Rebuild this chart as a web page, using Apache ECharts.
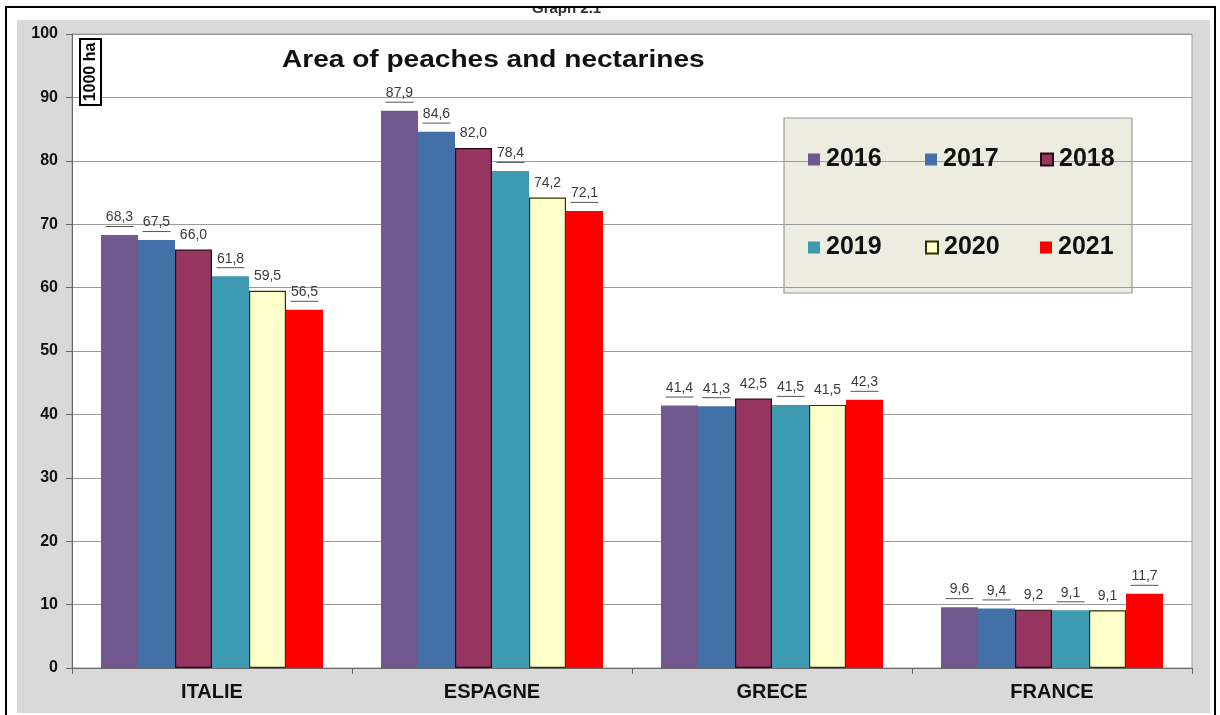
<!DOCTYPE html>
<html>
<head>
<meta charset="utf-8">
<script src="https://cdn.jsdelivr.net/npm/echarts@6/dist/echarts.min.js"></script>
<style>
html,body{margin:0;padding:0;background:#fff;}
#c{width:1220px;height:715px;}
</style>
</head>
<body>
<div id="c"></div>
<script>
const categories = ['ITALIE', 'ESPAGNE', 'GRECE', 'FRANCE'];
const years = ['2016', '2017', '2018', '2019', '2020', '2021'];
const y2016 = [68.3, 87.9, 41.4, 9.6];
const y2017 = [67.5, 84.6, 41.3, 9.4];
const y2018 = [66.0, 82.0, 42.5, 9.2];
const y2019 = [61.8, 78.4, 41.5, 9.1];
const y2020 = [59.5, 74.2, 41.5, 9.1];
const y2021 = [56.5, 72.1, 42.3, 11.7];
const yTicks = [0, 10, 20, 30, 40, 50, 60, 70, 80, 90, 100];

const seriesValues = [y2016, y2017, y2018, y2019, y2020, y2021];
const colors = ['#71588f', '#4470a8', '#953560', '#3d9ab1', '#ffffcc', '#ff0000'];
const borders = [null, null, '#2a0a18', null, '#333300', null];
const underlined = [true, true, false, true, false, true];
const FONT = '"Liberation Sans", Arial, sans-serif';

const chart = echarts.init(document.getElementById('c'), null, {renderer: 'canvas'});

const series = years.map((y, i) => ({
  name: y,
  type: 'bar',
  data: seriesValues[i],
  barGap: '0%',
  barCategoryGap: '20.7%',
  itemStyle: {
    color: colors[i],
    borderColor: borders[i] || colors[i],
    borderWidth: borders[i] ? 1.2 : 0
  },
  label: {
    show: true,
    position: 'top',
    distance: 7,
    formatter: p => {
      const s = p.value.toFixed(1).replace('.', ',');
      return underlined[i] ? '{v|' + s + '}\n{u| }' : '{v|' + s + '}';
    },
    rich: {
      v: {fontFamily: FONT, fontSize: 14, color: '#3a3a3a', lineHeight: 15},
      u: {width: 28, height: 1, lineHeight: 3, backgroundColor: '#555', fontSize: 1}
    }
  }
}));

const legendPos = [
  [808, 147], [925, 147], [1040, 147],
  [808, 235], [925, 235], [1040, 235]
];
const legends = years.map((y, i) => ({
  data: [y],
  left: legendPos[i][0],
  top: legendPos[i][1],
  z: 20,
  padding: 0,
  icon: 'rect',
  itemWidth: 12,
  itemHeight: 12,
  itemGap: 0,
  selectedMode: false,
  textStyle: {fontFamily: FONT, fontSize: 25, fontWeight: 'bold', color: '#111', padding: [0, 0, 0, 1]}
}));

const option = {
  animation: false,
  backgroundColor: '#ffffff',
  legend: legends,
  grid: {
    left: 72, top: 34, right: 28, bottom: 47,
    show: true,
    backgroundColor: '#ffffff',
    borderColor: '#a0a0a0',
    borderWidth: 1,
    containLabel: false
  },
  xAxis: {
    type: 'category',
    data: categories,
    axisLine: {lineStyle: {color: '#666', width: 1}},
    axisTick: {show: true, inside: false, length: 6, alignWithLabel: false, lineStyle: {color: '#666'}},
    axisLabel: {fontFamily: FONT, fontSize: 20, fontWeight: 'bold', color: '#111', margin: 14}
  },
  yAxis: {
    type: 'value',
    min: yTicks[0],
    max: yTicks[yTicks.length - 1],
    interval: 10,
    axisLine: {show: true, lineStyle: {color: '#666', width: 1}},
    axisTick: {show: true, inside: false, length: 6, lineStyle: {color: '#666'}},
    axisLabel: {fontFamily: FONT, fontSize: 16, fontWeight: 'bold', color: '#111', margin: 14},
    splitLine: {show: true, lineStyle: {color: '#9a9a9a', width: 1}}
  },
  graphic: [
    {type: 'rect', z: -10, silent: true, shape: {x: 17, y: 20, width: 1193, height: 693}, style: {fill: '#d9d9d9'}},
    {type: 'text', z: 1, left: 532, top: 1, style: {text: 'Graph 2.1', font: 'bold 15px ' + FONT, fill: '#333'}},
    {type: 'rect', z: 2, silent: true, shape: {x: 0, y: 0, width: 1220, height: 7}, style: {fill: '#fff'}},
    {type: 'line', z: 3, shape: {x1: 5, y1: 7, x2: 1216, y2: 7}, style: {stroke: '#000', lineWidth: 2}},
    {type: 'line', z: 3, shape: {x1: 6, y1: 7, x2: 6, y2: 715}, style: {stroke: '#000', lineWidth: 2}},
    {type: 'line', z: 3, shape: {x1: 1215, y1: 7, x2: 1215, y2: 715}, style: {stroke: '#000', lineWidth: 2}},
    {type: 'text', z: 5, x: 282, y: 61, scaleX: 1.22,
      style: {text: 'Area of peaches and nectarines', font: 'bold 23px ' + FONT, fill: '#111', align: 'left', verticalAlign: 'middle'}},
    {type: 'rect', z: 0, shape: {x: 784, y: 118, width: 348, height: 175}, style: {fill: '#ecede0', stroke: '#9a9a9a', lineWidth: 1.2}},
    {type: 'rect', z: 5, shape: {x: 80, y: 39, width: 21, height: 66}, style: {fill: '#fff', stroke: '#000', lineWidth: 2}},
    {type: 'text', z: 6, x: 91, y: 72, rotation: Math.PI / 2,
      style: {text: '1000 ha', font: 'bold 16px ' + FONT, fill: '#000', align: 'center', verticalAlign: 'middle'}}
  ],
  series: series
};
chart.setOption(option);
</script>
</body>
</html>
